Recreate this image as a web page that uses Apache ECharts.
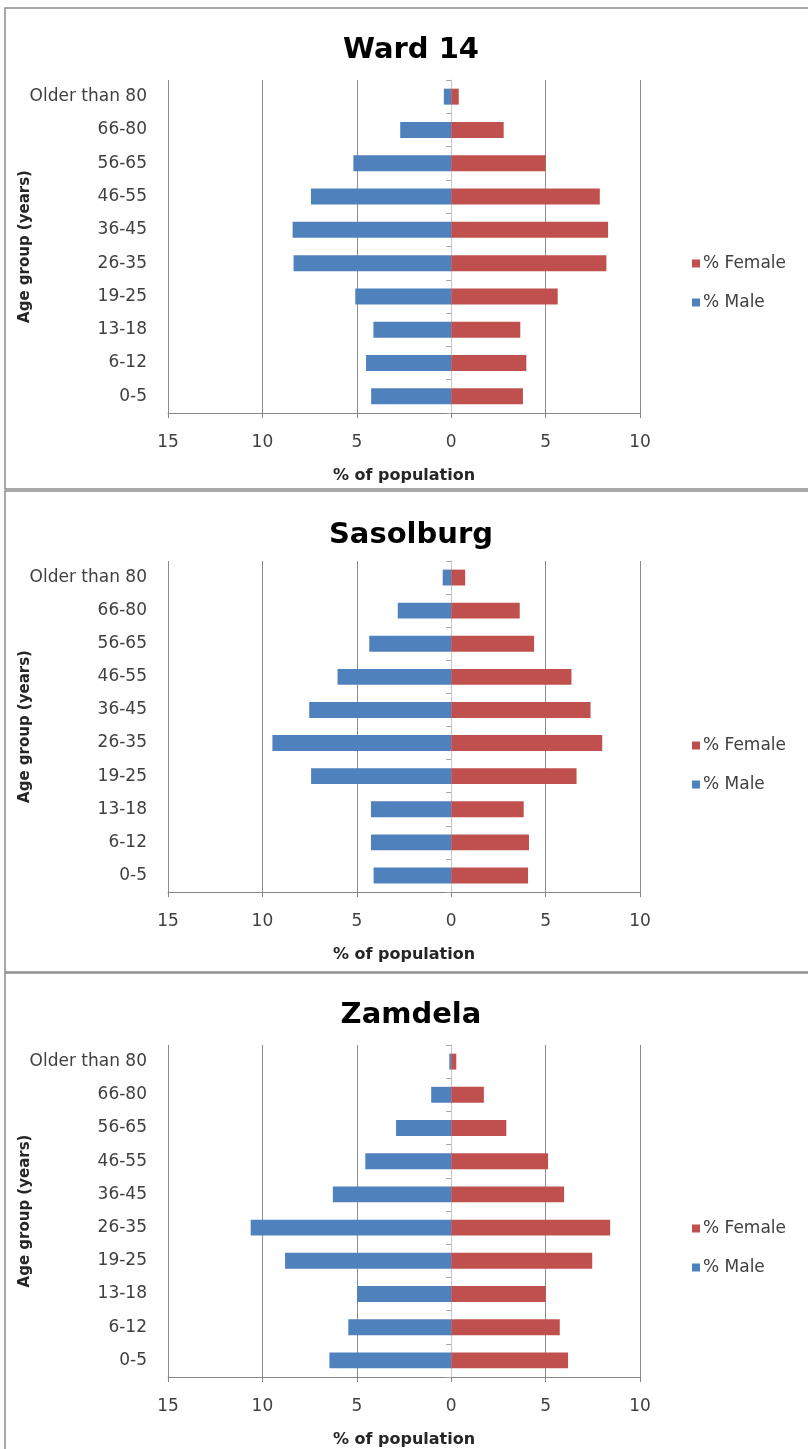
<!DOCTYPE html>
<html>
<head>
<meta charset="utf-8">
<title>Population pyramids</title>
<script src="https://cdn.jsdelivr.net/npm/echarts@6/dist/echarts.min.js"></script>
<style>
  html, body { margin: 0; padding: 0; background: #ffffff; }
  #chart { width: 808px; height: 1449px; }
</style>
</head>
<body>
<div id="chart"></div>
<script>
// Age bands, listed bottom to top
const ageGroups = ['0-5', '6-12', '13-18', '19-25', '26-35', '36-45', '46-55', '56-65', '66-80', 'Older than 80'];

// Share of population (%) per age band
const ward14Male     = [4.24, 4.51, 4.12, 5.08, 8.35, 8.40, 7.43, 5.18, 2.70, 0.39];
const ward14Female   = [3.80, 3.98, 3.66, 5.64, 8.22, 8.31, 7.87, 5.00, 2.78, 0.40];
const sasolburgMale  = [4.11, 4.25, 4.25, 7.42, 9.47, 7.52, 6.02, 4.34, 2.83, 0.45];
const sasolburgFemale= [4.07, 4.12, 3.84, 6.64, 8.00, 7.38, 6.37, 4.39, 3.63, 0.74];
const zamdelaMale    = [6.45, 5.45, 4.99, 8.80, 10.62, 6.27, 4.55, 2.92, 1.06, 0.10];
const zamdelaFemale  = [6.19, 5.75, 5.01, 7.47, 8.42, 5.98, 5.13, 2.92, 1.73, 0.27];

const areaNames = ['Ward 14', 'Sasolburg', 'Zamdela'];
const maleData = [ward14Male, sasolburgMale, zamdelaMale];
const femaleData = [ward14Female, sasolburgFemale, zamdelaFemale];

// x-axis: males on the negative side, shown as absolute values
const xMin = -15, xMax = 10, xStep = 5;

const FONT = 'DejaVu Sans';
const MALE_COLOR = '#4F81BD';
const FEMALE_COLOR = '#C0504D';

// panel geometry
const panels = [
  { titleY: 50,   gridTop: 80,   gridH: 333, legendTop: 250 },
  { titleY: 535,  gridTop: 561,  gridH: 331, legendTop: 732 },
  { titleY: 1015, gridTop: 1045, gridH: 332, legendTop: 1215 }
];

const grids = [], xAxes = [], yAxes = [], series = [], legends = [], graphics = [];

// panel frames
graphics.push(
  { type: 'rect', shape: { x: 5, y: 8, width: 820, height: 481 }, style: { fill: null, stroke: '#8c8c8c', lineWidth: 1.5 }, silent: true },
  { type: 'rect', shape: { x: 5, y: 491, width: 820, height: 481 }, style: { fill: null, stroke: '#8c8c8c', lineWidth: 1.5 }, silent: true },
  { type: 'rect', shape: { x: 5, y: 973, width: 820, height: 500 }, style: { fill: null, stroke: '#8c8c8c', lineWidth: 1.5 }, silent: true }
);

panels.forEach((p, i) => {
  grids.push({
    left: 168, right: 168, top: p.gridTop, height: p.gridH,
    containLabel: false, outerBoundsMode: 'none'
  });

  graphics.push({
    type: 'text', x: 411, y: p.titleY,
    style: { text: areaNames[i], font: 'bold 29px "' + FONT + '"', fill: '#000000', textAlign: 'center', textVerticalAlign: 'middle' },
    silent: true
  });

  xAxes.push({
    type: 'value', gridIndex: i, min: xMin, max: xMax, interval: xStep,
    name: '% of population', nameLocation: 'middle', nameGap: 55, nameMoveOverlap: false,
    nameTextStyle: { fontFamily: FONT, fontWeight: 'bold', fontSize: 16, color: '#262626' },
    axisLine: { show: true, onZero: false, lineStyle: { color: '#868686', width: 1 } },
    axisTick: { show: true, length: 5, lineStyle: { color: '#868686' } },
    axisLabel: { margin: 21, fontFamily: FONT, fontSize: 17, color: '#404040', formatter: v => String(Math.abs(v)) },
    splitLine: { show: true, lineStyle: { color: '#8c8c8c', width: 1 } }
  });

  // category labels at the left edge
  yAxes.push({
    type: 'category', gridIndex: i, data: ageGroups, position: 'left',
    name: 'Age group (years)', nameLocation: 'middle', nameRotate: 90, nameGap: 135, nameMoveOverlap: false,
    nameTextStyle: { fontFamily: FONT, fontWeight: 'bold', fontSize: 15, color: '#262626' },
    axisLine: { show: false, onZero: false },
    axisTick: { show: false },
    axisLabel: { margin: 21, fontFamily: FONT, fontSize: 17, color: '#404040' }
  });
  // centre line through zero with small ticks between bands
  yAxes.push({
    type: 'category', gridIndex: i, data: ageGroups, position: 'right',
    axisLine: { show: true, onZero: true, lineStyle: { color: '#c8c8c8', width: 1 } },
    axisTick: { show: true, inside: true, length: 5, lineStyle: { color: '#a6a6a6' } },
    axisLabel: { show: false },
    splitLine: { show: false }
  });

  series.push({
    name: '% Female', type: 'bar', xAxisIndex: i, yAxisIndex: 2 * i,
    data: femaleData[i], barWidth: '48%', barGap: '-100%',
    itemStyle: { color: FEMALE_COLOR }
  });
  series.push({
    name: '% Male', type: 'bar', xAxisIndex: i, yAxisIndex: 2 * i,
    data: maleData[i].map(v => -v), barWidth: '48%', barGap: '-100%',
    itemStyle: { color: MALE_COLOR }
  });

  legends.push({
    orient: 'vertical', left: 687, top: p.legendTop,
    data: ['% Female', '% Male'],
    itemWidth: 8, itemHeight: 8, itemGap: 22,
    icon: 'rect', selectedMode: false,
    textStyle: { fontFamily: FONT, fontSize: 17, color: '#404040', padding: [0, 0, 0, -2] }
  });
});

const chart = echarts.init(document.getElementById('chart'), null, { renderer: 'canvas' });
chart.setOption({
  backgroundColor: '#ffffff',
  animation: false,
  grid: grids,
  xAxis: xAxes,
  yAxis: yAxes,
  legend: legends,
  series: series,
  graphic: graphics
});
</script>
</body>
</html>
